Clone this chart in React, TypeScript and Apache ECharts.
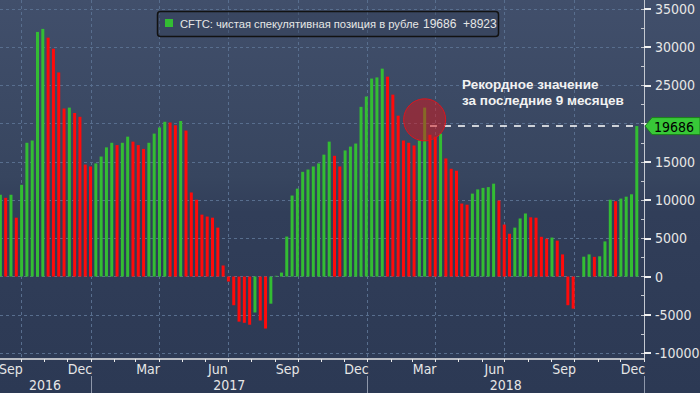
import React, { useEffect, useRef } from 'react';
import * as echarts from 'echarts';

// ---------- data ----------
const AXIS_START = '2016-09-03';
const AXIS_END = '2018-12-31';
const FIRST_WEEK = '2016-09-03';

// CFTC net speculative position in rubles (weekly)
const netPosition = [
  10700, 10300, 10700, 7700, 12000, 17500, 17800, 32000, 32400, 31250,
  29800, 26700, 22000, 22100, 21400, 20900, 14650, 14400, 14800, 15700,
  16900, 17500, 17200, 17500, 18300, 17650, 17200, 16700, 17500, 18700,
  19500, 20250, 20150, 19800, 20350, 19100, 11000, 10050, 8100, 7850,
  7700, 6400, 1450, -650, -3750, -5900, -6050, -6300, -4700, -5750,
  -6800, -3550, 100, 520, 5230, 10600, 11500, 13700, 14000, 14400,
  14800, 15950, 17650, 15800, 14400, 16500, 17000, 17400, 22200, 23550,
  25900, 26050, 27200, 26150, 23800, 21050, 17800, 17500, 17150, 17800,
  22100, 18550, 18300, 18700, 15450, 14100, 13850, 9550, 9400, 10850,
  11400, 11600, 11700, 12150, 9950, 6800, 5600, 6400, 7600, 8250,
  7750, 7700, 5200, 4950, 5100, 4700, 2900, -3750, -4200, 50,
  2600, 2900, 2580, 2650, 4600, 10050, 9850, 10200, 10450, 10763,
  19686,
];

const monthNames = ['Jan', 'Feb', 'Mar', 'Apr', 'May', 'Jun', 'Jul', 'Aug', 'Sep', 'Oct', 'Nov', 'Dec'];
const labelMonths = [3, 6, 9, 12];
const quarterStartMonths = [1, 4, 7, 10];
const Y_MIN = -10000;
const Y_MAX = 35000;
const Y_INTERVAL = 5000;
const Y_MINOR = 2500;

const legendTitle = 'CFTC: чистая спекулятивная позиция в рубле';
const noteLines = ['Рекордное значение', 'за последние 9 месяцев'];
const highlightWeek = 80; // circled bar
const highlightCenterValue = 20500;
const recordLineStartWeek = 81;

// ---------- helpers ----------
function addDays(iso: string, n: number): string {
  const d = new Date(iso + 'T00:00:00Z');
  d.setUTCDate(d.getUTCDate() + n);
  return d.toISOString().slice(0, 10);
}
const days: string[] = [];
for (let d = AXIS_START; d <= AXIS_END; d = addDays(d, 1)) days.push(d);
const weekDates = netPosition.map((_, i) => addDays(FIRST_WEEK, 7 * i));

const GREEN = '#33bd33';
const RED = '#ff0a0a';
const GRID_COLOR = '#586e8e';
const TEXT = '#e6e6e6';
const AXIS_FONT = "'Liberation Sans Narrow', 'DejaVu Sans Condensed', 'Liberation Sans', sans-serif";
const UI_FONT = "'Liberation Sans', Arial, sans-serif";

const weekIndex = new Map(weekDates.map((d, i) => [d, i]));
const barData = days.map((d) => {
  const i = weekIndex.get(d);
  if (i === undefined) return '-';
  const v = netPosition[i];
  const prev = i > 0 ? netPosition[i - 1] : -Infinity;
  return { value: v, itemStyle: { color: v >= prev ? GREEN : RED } };
});

const mon = (d: string) => parseInt(d.slice(5, 7), 10);
const dom = (d: string) => parseInt(d.slice(8, 10), 10);

// year label at centre of each year's visible span
const yearLabelIdx = new Set<number>();
{
  const spans: Record<string, [number, number]> = {};
  days.forEach((d, i) => {
    const y = d.slice(0, 4);
    if (!spans[y]) spans[y] = [i, i];
    else spans[y][1] = i;
  });
  Object.values(spans).forEach(([a, b]) => yearLabelIdx.add(Math.floor((a + b) / 2)));
}

const GRID_RIGHT = 56;

export default function App() {
  const ref = useRef<HTMLDivElement>(null);

  useEffect(() => {
    document.body.style.margin = '0';
    const chart = echarts.init(ref.current!, null, { renderer: 'svg' });
    const last = netPosition[netPosition.length - 1];
    const change = last - netPosition[netPosition.length - 2];

    const option: any = {
      animation: false,
      backgroundColor: 'transparent',
      grid: [
        { left: 0, right: GRID_RIGHT, top: 0, bottom: 34, outerBoundsMode: 'none', containLabel: false },
        { left: 0, right: GRID_RIGHT, top: 9, bottom: 40, outerBoundsMode: 'none', containLabel: false },
      ],
      xAxis: [
        {
          type: 'category',
          gridIndex: 0,
          data: days,
          position: 'bottom',
          axisLine: { show: true, onZero: false, lineStyle: { color: '#e8e8e8', width: 1.5 } },
          axisTick: {
            show: true,
            length: 3,
            interval: (i: number) => dom(days[i]) === 1,
            lineStyle: { color: '#e8e8e8' },
          },
          axisLabel: {
            show: true,
            interval: (i: number) => dom(days[i]) === 17 && labelMonths.includes(mon(days[i])),
            formatter: (v: string) => monthNames[mon(v) - 1],
            color: TEXT,
            fontSize: 14,
            fontFamily: AXIS_FONT,
            margin: 3,
          },
          splitLine: {
            show: true,
            interval: (i: number) => dom(days[i]) === 1 && quarterStartMonths.includes(mon(days[i])),
            lineStyle: { color: GRID_COLOR, type: [3, 3], width: 1 },
          },
        },
        {
          type: 'category',
          gridIndex: 0,
          data: days,
          position: 'bottom',
          offset: 17,
          axisLine: { show: false, onZero: false },
          axisTick: {
            show: true,
            length: 17,
            interval: (i: number) => days[i].slice(5) === '01-01',
            lineStyle: { color: '#8e97aa' },
          },
          axisLabel: {
            show: true,
            interval: (i: number) => yearLabelIdx.has(i),
            formatter: (v: string) => v.slice(0, 4),
            color: TEXT,
            fontSize: 14,
            fontFamily: AXIS_FONT,
            margin: 2,
          },
          splitLine: { show: false },
        },
        {
          type: 'category',
          gridIndex: 1,
          data: days,
          show: false,
        },
      ],
      yAxis: [
        {
          type: 'value',
          gridIndex: 0,
          min: 0,
          max: 1,
          position: 'right',
          axisLine: { show: true, lineStyle: { color: '#c4c8d0' } },
          axisTick: { show: false },
          axisLabel: { show: false },
          splitLine: { show: false },
        },
        {
          type: 'value',
          gridIndex: 1,
          min: Y_MIN,
          max: Y_MAX,
          interval: Y_INTERVAL,
          position: 'right',
          axisLine: { show: false },
          axisTick: { show: true, inside: false, length: 7, lineStyle: { color: '#f0f0f0', width: 2 } },
          axisLabel: {
            color: TEXT,
            fontSize: 14,
            fontFamily: AXIS_FONT,
            margin: 11,
            // the label hidden behind the last-value tag is left out, as in the original
            formatter: (v: number) => (Math.abs(v - netPosition[netPosition.length - 1]) < 1500 ? '' : String(v)),
          },
          splitLine: { show: true, lineStyle: { color: GRID_COLOR, type: [3, 3], width: 1 } },
        },
        {
          type: 'value',
          gridIndex: 1,
          min: Y_MIN,
          max: Y_MAX,
          interval: Y_MINOR,
          position: 'right',
          axisLine: { show: false },
          axisTick: { show: true, inside: true, length: 3, lineStyle: { color: '#c4c8d0' } },
          axisLabel: { show: false },
          splitLine: { show: false },
        },
      ],
      series: [
        {
          type: 'bar',
          xAxisIndex: 2,
          yAxisIndex: 1,
          data: barData,
          barWidth: 3,
          markPoint: {
            silent: true,
            symbol: 'circle',
            symbolSize: 42,
            label: { show: false },
            itemStyle: { color: 'rgba(217,22,26,0.5)', borderColor: '#e0141c', borderWidth: 1 },
            data: [{ coord: [weekDates[highlightWeek], highlightCenterValue] }],
          },
          markLine: {
            silent: true,
            symbol: 'none',
            label: { show: false },
            lineStyle: { color: '#ffffff', type: [7, 7], width: 1.5 },
            data: [
              [
                { coord: [weekDates[recordLineStartWeek], last] },
                { coord: [weekDates[weekDates.length - 1], last] },
              ],
            ],
          },
        },
      ],
    };
    chart.setOption(option);

    const yLast = chart.convertToPixel({ yAxisIndex: 1 }, last) as number;
    const ax = 700 - GRID_RIGHT;

    chart.setOption({
      graphic: [
        {
          type: 'rect',
          shape: { x: 157.5, y: 11.5, width: 341, height: 25, r: 3 },
          style: { fill: 'rgba(45,56,80,0.35)', stroke: '#121212', lineWidth: 1.5 },
          z: 10,
        },
        { type: 'rect', shape: { x: 165, y: 19, width: 8, height: 8 }, style: { fill: GREEN }, z: 11 },
        {
          type: 'text', x: 180, y: 24, z: 11,
          style: { text: legendTitle, fill: TEXT, font: `11.2px ${UI_FONT}`, verticalAlign: 'middle', textVerticalAlign: 'middle' },
        },
        {
          type: 'text', x: 423, y: 24, z: 11,
          style: { text: String(last), fill: TEXT, font: `12px ${UI_FONT}`, verticalAlign: 'middle', textVerticalAlign: 'middle' },
        },
        {
          type: 'text', x: 463, y: 24, z: 11,
          style: { text: (change >= 0 ? '+' : '') + change, fill: TEXT, font: `12px ${UI_FONT}`, verticalAlign: 'middle', textVerticalAlign: 'middle' },
        },
        {
          type: 'text', x: 462, y: 84, z: 11,
          style: { text: noteLines[0], fill: '#f2f2f2', font: `bold 13.5px ${UI_FONT}`, verticalAlign: 'middle', textVerticalAlign: 'middle' },
        },
        {
          type: 'text', x: 462, y: 100, z: 11,
          style: { text: noteLines[1], fill: '#f2f2f2', font: `bold 13.5px ${UI_FONT}`, verticalAlign: 'middle', textVerticalAlign: 'middle' },
        },
        {
          type: 'line', z: 11,
          shape: { x1: ax + 0.5, y1: 376, x2: ax + 0.5, y2: 393 },
          style: { stroke: '#8e97aa', lineWidth: 1 },
        },
        {
          type: 'polygon', z: 20,
          shape: {
            points: [
              [ax + 1, yLast],
              [ax + 8, yLast - 8.5],
              [700, yLast - 8.5],
              [700, yLast + 8.5],
              [ax + 8, yLast + 8.5],
            ],
          },
          style: { fill: '#38c838', stroke: '#1d7f1d', lineWidth: 1 },
        },
        {
          type: 'text', x: ax + 10, y: yLast + 0.5, z: 21,
          style: { text: String(last), fill: '#000000', font: `14px ${AXIS_FONT}`, verticalAlign: 'middle', textVerticalAlign: 'middle' },
        },
      ],
    });

    return () => chart.dispose();
  }, []);

  return (
    <div
      ref={ref}
      style={{
        position: 'fixed',
        left: 0,
        top: 0,
        width: 700,
        height: 393,
        background: 'linear-gradient(180deg, #414f6b 0%, #37455f 45%, #313e59 54%, #2c3954 100%)',
      }}
    />
  );
}
